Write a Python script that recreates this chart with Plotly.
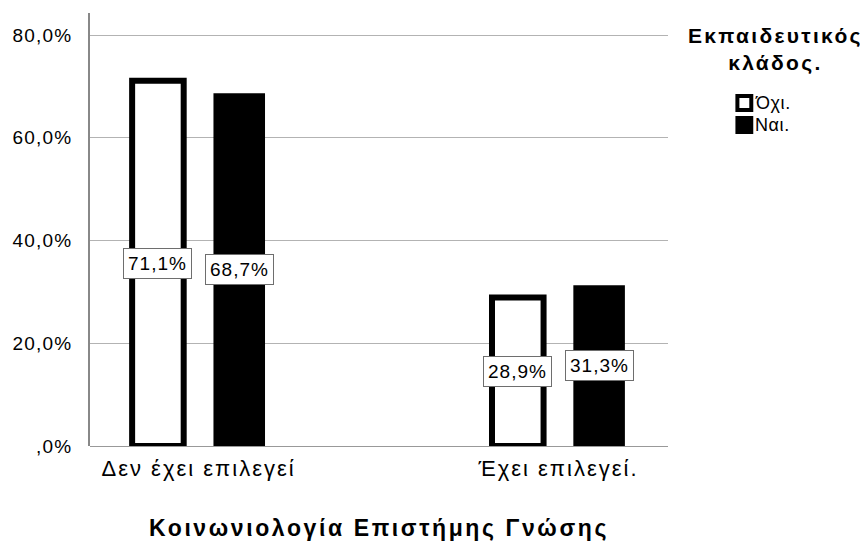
import plotly.graph_objects as go

categories = ["Δεν έχει επιλεγεί", "Έχει επιλεγεί."]
series_names = ["Όχι.", "Ναι."]
values_ochi = [71.1, 28.9]
values_nai = [68.7, 31.3]
label_ochi = ["71,1%", "28,9%"]
label_nai = ["68,7%", "31,3%"]
y_tickvals = [0, 20, 40, 60, 80]
y_ticktext = [",0%", "20,0%", "40,0%", "60,0%", "80,0%"]
legend_title = ["Εκπαιδευτικός", "κλάδος."]
axis_title = "Κοινωνιολογία Επιστήμης Γνώσης"

FONT = "Liberation Sans, Arial, sans-serif"

# figure geometry (px) used to place the hand-drawn legend in paper units
W, H = 860, 534
ML, MR, MT, MB = 77, 200, 5, 96
PW, PH = W - ML - MR, H - MT - MB


def px_x(px):
    return (px - ML) / PW


def px_y(px):
    return (H - MB - px) / PH


def sp(text, px):
    return '<span style="letter-spacing:%spx">%s</span>' % (px, text)


idx = list(range(len(categories)))

fig = go.Figure()
fig.add_trace(go.Bar(
    x=idx, y=values_ochi, name=series_names[0], showlegend=False,
    marker=dict(color="white", line=dict(color="black", width=6)),
))
fig.add_trace(go.Bar(
    x=idx, y=values_nai, name=series_names[1], showlegend=False,
    marker=dict(color="black", line=dict(color="black", width=0)),
))

for vals, labs, shift in [(values_ochi, label_ochi, -41), (values_nai, label_nai, 41)]:
    for i, (v, lab) in enumerate(zip(vals, labs)):
        fig.add_annotation(
            x=i, y=v / 2, xref="x", yref="y", text=sp(lab, 1), showarrow=False,
            xshift=shift, font=dict(family=FONT, size=19, color="black"),
            bgcolor="white", bordercolor="#6e6e6e", borderwidth=1, borderpad=4,
        )

# legend (drawn manually to match the reference layout)
fig.add_annotation(
    x=px_x(768), y=px_y(41), xref="paper", yref="paper",
    xanchor="center", yanchor="middle", showarrow=False, align="center",
    text="<b>" + "<br>".join(sp(t, 2.3) for t in legend_title) + "</b>",
    font=dict(family=FONT, size=21, color="black"),
)
legend_styles = [dict(fill="white", lw=4), dict(fill="black", lw=0)]
for k, (name, st) in enumerate(zip(series_names, legend_styles)):
    top = 86 + 22 * k
    inset = st["lw"] / 2
    fig.add_shape(
        type="rect", xref="paper", yref="paper",
        x0=px_x(728 + inset), x1=px_x(746 - inset),
        y0=px_y(top + inset), y1=px_y(top + 18 - inset),
        fillcolor=st["fill"], line=dict(color="black", width=st["lw"]),
    )
    fig.add_annotation(
        x=px_x(746), y=px_y(top + 9), xref="paper", yref="paper",
        xanchor="left", yanchor="middle", showarrow=False,
        text=sp(name, 0.6), font=dict(family=FONT, size=18, color="black"),
    )

fig.update_layout(
    width=W, height=H,
    margin=dict(l=ML, r=MR, t=MT, b=MB),
    paper_bgcolor="white", plot_bgcolor="white",
    barmode="group", bargap=0.548, bargroupgap=0.366,
    font=dict(family=FONT, size=19, color="black"),
    showlegend=False,
)
fig.update_xaxes(
    tickmode="array", tickvals=idx, ticktext=[sp(c, 2) for c in categories],
    range=[-0.3017, 1.3044], showline=False, showgrid=False, zeroline=False,
    ticks="", tickfont=dict(family=FONT, size=22), ticklabelstandoff=7,
    title=dict(text="<b>" + sp(axis_title, 2.6) + "</b>",
               font=dict(family=FONT, size=23), standoff=39),
)
fig.update_yaxes(
    range=[0, 84.3], tickmode="array", tickvals=y_tickvals,
    ticktext=[sp(t, 1.2) for t in y_ticktext],
    showgrid=True, gridcolor="#b3b3b3", gridwidth=1.3,
    zeroline=True, zerolinecolor="#999999", zerolinewidth=1.3,
    showline=True, linecolor="#888888", linewidth=1.5,
    ticks="", tickfont=dict(family=FONT, size=19), ticklabelstandoff=12,
)

fig.write_html("out.html")
